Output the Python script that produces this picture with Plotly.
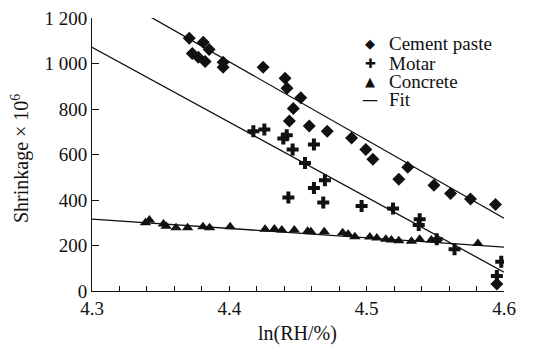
import plotly.graph_objects as go

# Cement paste (diamonds)
cement_x = [4.3708, 4.381, 4.3853, 4.373, 4.3774, 4.3824, 4.3955, 4.3955, 4.4246, 4.4406,
            4.442, 4.452, 4.4466, 4.4437, 4.4582, 4.4713, 4.489, 4.4994, 4.5045, 4.5299,
            4.5234, 4.549, 4.5611, 4.5756, 4.5938, 4.5948]
cement_y = [1111, 1093, 1062, 1044, 1027, 1009, 1005, 983, 983, 935,
            891, 850, 802, 747, 725, 702, 673, 622, 579, 544,
            491, 465, 429, 404, 380, 31]

# Motar (crosses)
motar_x = [4.4175, 4.4255, 4.4393, 4.4418, 4.4461, 4.4616, 4.4551, 4.4696, 4.4616, 4.443,
           4.4684, 4.4963, 4.5192, 4.5386, 4.5379, 4.551, 4.564, 4.598, 4.5948]
motar_y = [702, 710, 670, 685, 622, 644, 563, 487, 453, 411,
           389, 374, 363, 315, 290, 228, 184, 129, 66]

# Concrete (triangles)
concrete_x = [4.3389, 4.3418, 4.352, 4.354, 4.3612, 4.3696, 4.3808, 4.3856, 4.4006, 4.426,
              4.4328, 4.4382, 4.4473, 4.457, 4.4594, 4.4691, 4.4825, 4.4865, 4.4914, 4.5023,
              4.5074, 4.5139, 4.518, 4.5234, 4.5326, 4.5386, 4.5471, 4.5508, 4.581]
concrete_y = [300, 312, 294, 285, 278, 278, 282, 278, 282, 271,
              273, 268, 268, 263, 260, 260, 256, 249, 239, 237,
              233, 227, 224, 221, 219, 228, 224, 224, 209]

# Linear fits (end values at x = 4.3 and 4.6)
fit_x = [4.3, 4.6]
fit_cement = [1351, 320]
fit_motar = [1071, 83]
fit_concrete = [316, 193]

x_tickvals = [4.3, 4.4, 4.5, 4.6]
x_ticktext = ["4.3", "4.4", "4.5", "4.6"]
y_tickvals = [0, 200, 400, 600, 800, 1000, 1200]
y_ticktext = ["0", "200", "400", "600", "800", "1 000", "1 200"]

x_title = "ln(RH/%)"
y_title = "Shrinkage × 10<sup>6</sup>"

legend_symbols = ["◆", "✚", "▲", "—"]
legend_labels = ["Cement paste", "Motar", "Concrete", "Fit"]

ink = "#111111"
font = "Liberation Serif"

fig = go.Figure()
fig.add_trace(go.Scatter(x=cement_x, y=cement_y, mode="markers", name=legend_labels[0],
                         marker=dict(symbol="diamond", size=10, color=ink)))
fig.add_trace(go.Scatter(x=motar_x, y=motar_y, mode="markers", name=legend_labels[1],
                         marker=dict(symbol="cross", size=10, color=ink)))
fig.add_trace(go.Scatter(x=concrete_x, y=concrete_y, mode="markers", name=legend_labels[2],
                         marker=dict(symbol="triangle-up", size=10, color=ink)))
for fy in (fit_cement, fit_motar, fit_concrete):
    fig.add_trace(go.Scatter(x=fit_x, y=fy, mode="lines", name=legend_labels[3],
                             line=dict(color=ink, width=1.3)))

# compact legend, written as text
leg_y = [0.905, 0.835, 0.769, 0.700]
for sym, lab, yy in zip(legend_symbols, legend_labels, leg_y):
    fig.add_annotation(xref="paper", yref="paper", x=0.675, y=yy, text=sym,
                       showarrow=False, xanchor="center", yanchor="middle",
                       font=dict(family="DejaVu Sans", size=13 if sym != "—" else 16, color=ink))
    fig.add_annotation(xref="paper", yref="paper", x=0.716, y=yy, text=lab,
                       showarrow=False, xanchor="left", yanchor="middle",
                       font=dict(family=font, size=19, color=ink))

# axis titles
fig.add_annotation(xref="paper", yref="paper", x=0.4976, y=-0.154, text=x_title,
                   showarrow=False, xanchor="center", yanchor="middle",
                   font=dict(family=font, size=20, color=ink))
fig.add_annotation(xref="paper", yref="paper", x=-0.1748, y=0.487, text=y_title,
                   showarrow=False, xanchor="center", yanchor="middle", textangle=-90,
                   font=dict(family=font, size=20, color=ink))

# the page body adds an 8 px offset, so the figure is 8 px smaller than the window
fig.update_layout(
    width=528, height=337,
    margin=dict(l=84, r=32, t=10, b=54),
    paper_bgcolor="white", plot_bgcolor="white",
    font=dict(family=font, size=19, color=ink),
    showlegend=False,
    xaxis=dict(range=[4.3, 4.6], tickvals=x_tickvals, ticktext=x_ticktext,
               ticks="inside", ticklen=5, tickcolor=ink, showline=True, linecolor=ink,
               linewidth=1, showgrid=False, zeroline=False, automargin=False,
               ticklabeloverflow="allow",
               minor=dict(dtick=0.02, ticks="inside", ticklen=5, tickcolor=ink, showgrid=False),
               tickfont=dict(family=font, size=19)),
    yaxis=dict(range=[0, 1200], tickvals=y_tickvals, ticktext=y_ticktext,
               ticks="inside", ticklen=7, tickcolor=ink, showline=True, linecolor=ink,
               linewidth=1, showgrid=False, zeroline=False, automargin=False,
               ticklabeloverflow="allow",
               tickfont=dict(family=font, size=19)),
)

fig.write_html("out.html")
